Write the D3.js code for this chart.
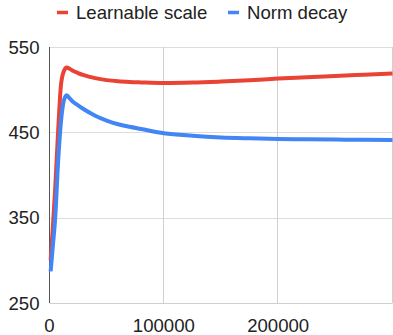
<!DOCTYPE html>
<html>
<head>
<meta charset="utf-8">
<script src="https://cdn.jsdelivr.net/npm/d3@7.9.0/dist/d3.min.js"></script>
<style>
  html, body { margin: 0; padding: 0; background: #fff; }
  svg { display: block; font-family: "Liberation Sans", Arial, sans-serif; }
</style>
</head>
<body>
<svg id="chart" width="393" height="335"></svg>
<script>
// training steps (shared by both series)
const steps = [1000, 3000, 5000, 7500, 10000, 12500, 15000, 17500, 20000, 25000, 30000,
  40000, 50000, 60000, 70000, 80000, 100000, 125000, 150000, 175000, 200000,
  225000, 250000, 275000, 300000];
const learnableScale = [300, 340, 385, 450, 505, 521.5, 526, 524.5, 522.5, 519.5, 517,
  513.5, 511.2, 509.8, 509, 508.5, 507.8, 508.3, 509.5, 511, 513,
  514.5, 516, 517.5, 519];
const normDecay = [287, 318, 350, 415, 462, 487, 493.5, 490, 486.5, 481.5, 477,
  469.5, 463.8, 459.5, 456.5, 454, 449, 446, 444, 443, 442.3,
  441.8, 441.5, 441.2, 441];
const seriesNames = ['Learnable scale', 'Norm decay'];
const yTicks = [250, 350, 450, 550];
const xTicks = [0, 100000, 200000];
const xGrid = [100000, 200000, 300000];

const colors = ['#ea4335', '#4285f4'];
const svg = d3.select('#chart');

const x = d3.scaleLinear().domain([0, 300000]).range([49.5, 392.5]);
const y = d3.scaleLinear().domain([250, 550]).range([303, 47]);

// gridlines
svg.append('g').selectAll('line')
  .data(yTicks)
  .enter().append('line')
  .attr('x1', x(0)).attr('x2', x(300000))
  .attr('y1', d => Math.round(y(d)) + 0.5).attr('y2', d => Math.round(y(d)) + 0.5)
  .attr('stroke', d => d === 250 ? '#cfcfcf' : '#dddddd')
  .attr('stroke-width', 1);

svg.append('g').selectAll('line')
  .data(xGrid)
  .enter().append('line')
  .attr('x1', d => Math.round(x(d)) - 0.5).attr('x2', d => Math.round(x(d)) - 0.5)
  .attr('y1', y(550)).attr('y2', y(250))
  .attr('stroke', '#d0d0d0')
  .attr('stroke-width', 1);

// left axis line
svg.append('line')
  .attr('x1', 49.5).attr('x2', 49.5)
  .attr('y1', y(550)).attr('y2', y(250))
  .attr('stroke', '#555')
  .attr('stroke-width', 1);

// tick labels
svg.append('g').selectAll('text')
  .data(yTicks)
  .enter().append('text')
  .attr('x', 39.5)
  .attr('y', d => y(d) + 6.5)
  .attr('text-anchor', 'end')
  .attr('font-size', 18.6)
  .attr('fill', '#222')
  .text(d => d);

svg.append('g').selectAll('text')
  .data(xTicks)
  .enter().append('text')
  .attr('x', d => x(d))
  .attr('y', 331.5)
  .attr('text-anchor', 'middle')
  .attr('font-size', 18.6)
  .attr('fill', '#222')
  .text(d => d);

// lines
const line = d3.line()
  .x(d => x(d[0]))
  .y(d => y(d[1]))
  .curve(d3.curveMonotoneX);

[learnableScale, normDecay].forEach((vals, i) => {
  svg.append('path')
    .datum(steps.map((s, j) => [s, vals[j]]))
    .attr('d', line)
    .attr('fill', 'none')
    .attr('stroke', colors[i])
    .attr('stroke-width', 4)
    .attr('stroke-linejoin', 'round');
});

// legend
const legendPos = [57, 228];
seriesNames.forEach((name, i) => {
  svg.append('line')
    .attr('x1', legendPos[i]).attr('x2', legendPos[i] + 11)
    .attr('y1', 12.5).attr('y2', 12.5)
    .attr('stroke', colors[i])
    .attr('stroke-width', 3.5);
  svg.append('text')
    .attr('x', legendPos[i] + 19)
    .attr('y', 18.5)
    .attr('font-size', 18.6)
    .attr('fill', '#222')
    .text(name);
});
</script>
</body>
</html>
